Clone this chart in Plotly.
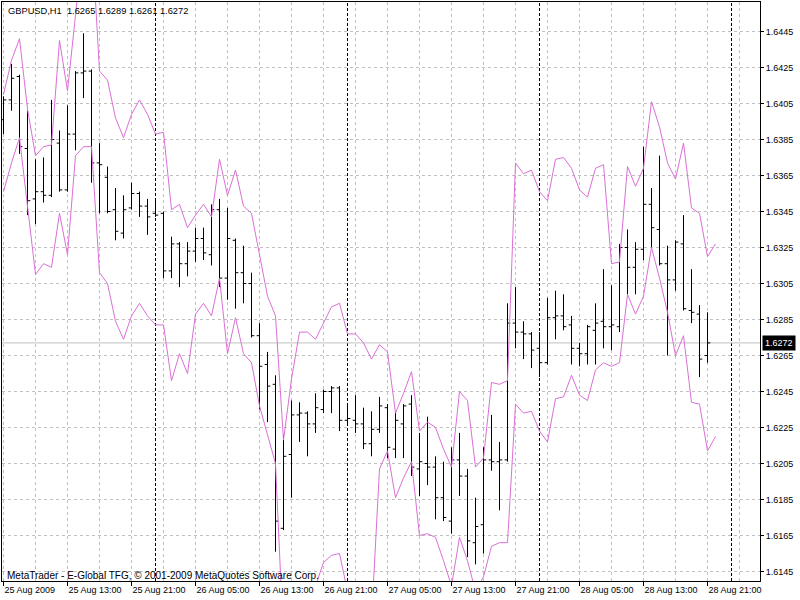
import pandas as pd
import plotly.graph_objects as go

# ---------------- data ----------------
symbol_title = "GBPUSD,H1  1.6265 1.6289 1.6261 1.6272"
copyright_text = "MetaTrader - E-Global TFG, \u00a9 2001-2009 MetaQuotes Software Corp."
first_bar = "2009-08-25 05:00"

opens = [1.6396, 1.6407, 1.6420, 1.6380, 1.6352, 1.6356, 1.6354, 1.6383, 1.6357, 1.6388,
         1.6422, 1.6423, 1.6372, 1.6364, 1.6346, 1.6333, 1.6347, 1.6355, 1.6348, 1.6344,
         1.6344, 1.6312, 1.6327, 1.6316, 1.6323, 1.6330, 1.6321, 1.6346, 1.6308, 1.6329,
         1.6311, 1.6305, 1.6276, 1.6260, 1.6249, 1.6169, 1.6210, 1.6232, 1.6233, 1.6227,
         1.6235, 1.6245, 1.6247, 1.6229, 1.6229, 1.6227, 1.6216, 1.6224, 1.6236, 1.6213,
         1.6227, 1.6238, 1.6202, 1.6205, 1.6203, 1.6186, 1.6173, 1.6207, 1.6198, 1.6161,
         1.6171, 1.6207, 1.6206, 1.6207, 1.6283, 1.6278, 1.6277, 1.6269, 1.6261, 1.6286,
         1.6287, 1.6282, 1.6269, 1.6266, 1.6279, 1.6284, 1.6281, 1.6281, 1.6325, 1.6314,
         1.6324, 1.6349, 1.6335, 1.6316, 1.6307, 1.6327, 1.6290, 1.6288, 1.6265]
highs = [1.6409, 1.6427, 1.6421, 1.6401, 1.6374, 1.6375, 1.6407, 1.6390, 1.6404, 1.6423,
         1.6444, 1.6424, 1.6383, 1.6370, 1.6358, 1.6354, 1.6361, 1.6356, 1.6352, 1.6351,
         1.6345, 1.6331, 1.6328, 1.6328, 1.6336, 1.6336, 1.6349, 1.6352, 1.6347, 1.6330,
         1.6326, 1.6311, 1.6283, 1.6267, 1.6254, 1.6221, 1.6240, 1.6239, 1.6234, 1.6244,
         1.6246, 1.6248, 1.6248, 1.6237, 1.6243, 1.6236, 1.6234, 1.6242, 1.6238, 1.6234,
         1.6238, 1.6243, 1.6222, 1.6231, 1.6209, 1.6206, 1.6214, 1.6222, 1.6202, 1.6186,
         1.6214, 1.6232, 1.6217, 1.6294, 1.6303, 1.6284, 1.6278, 1.6278, 1.6297, 1.6301,
         1.6299, 1.6287, 1.6272, 1.6282, 1.6294, 1.6313, 1.6304, 1.6327, 1.6335, 1.6328,
         1.6381, 1.6358, 1.6376, 1.6326, 1.6329, 1.6343, 1.6313, 1.6293, 1.6289]
lows = [1.6388, 1.6401, 1.6377, 1.6343, 1.6338, 1.6350, 1.6353, 1.6356, 1.6356, 1.6379,
        1.6408, 1.6361, 1.6344, 1.6344, 1.6329, 1.6330, 1.6346, 1.6342, 1.6332, 1.6342,
        1.6308, 1.6308, 1.6303, 1.6309, 1.6317, 1.6318, 1.6315, 1.6303, 1.6296, 1.6291,
        1.6294, 1.6275, 1.6235, 1.6228, 1.6156, 1.6168, 1.6186, 1.6217, 1.6209, 1.6222,
        1.6233, 1.6233, 1.6223, 1.6226, 1.6222, 1.6213, 1.6209, 1.6222, 1.6208, 1.6208,
        1.6208, 1.6198, 1.6187, 1.6193, 1.6174, 1.6173, 1.6166, 1.6187, 1.6153, 1.6149,
        1.6155, 1.6201, 1.6179, 1.6206, 1.6269, 1.6263, 1.6258, 1.6253, 1.6260, 1.6274,
        1.6279, 1.6260, 1.6259, 1.6260, 1.6260, 1.6269, 1.6268, 1.6278, 1.6299, 1.6299,
        1.6318, 1.6325, 1.6315, 1.6265, 1.6301, 1.6290, 1.6283, 1.6253, 1.6261]
closes = [1.6407, 1.6419, 1.6381, 1.6351, 1.6356, 1.6354, 1.6385, 1.6357, 1.6388, 1.6422,
          1.6423, 1.6372, 1.6371, 1.6345, 1.6334, 1.6346, 1.6355, 1.6348, 1.6342, 1.6343,
          1.6312, 1.6327, 1.6316, 1.6323, 1.6330, 1.6322, 1.6346, 1.6308, 1.6330, 1.6311,
          1.6305, 1.6276, 1.6259, 1.6248, 1.6173, 1.6209, 1.6232, 1.6233, 1.6227, 1.6236,
          1.6245, 1.6247, 1.6229, 1.6230, 1.6227, 1.6216, 1.6224, 1.6237, 1.6214, 1.6229,
          1.6237, 1.6203, 1.6206, 1.6203, 1.6186, 1.6175, 1.6207, 1.6198, 1.6162, 1.6170,
          1.6207, 1.6206, 1.6207, 1.6283, 1.6278, 1.6277, 1.6268, 1.6261, 1.6286, 1.6287,
          1.6281, 1.6269, 1.6266, 1.6281, 1.6283, 1.6281, 1.6282, 1.6325, 1.6314, 1.6324,
          1.6349, 1.6336, 1.6316, 1.6307, 1.6328, 1.6291, 1.6289, 1.6263, 1.6272]

upper_band = [1.6410, 1.6429, 1.6441, 1.6402, 1.6376, 1.6381, 1.6382, 1.6440, 1.6412, 1.6451,
              1.6496, 1.6501, 1.6423, 1.6418, 1.6397, 1.6386, 1.6399, 1.6407, 1.6399, 1.6388,
              1.6389, 1.6346, 1.6349, 1.6336, 1.6343, 1.6349, 1.6342, 1.6374, 1.6354, 1.6368,
              1.6348, 1.6344, 1.6321, 1.6298, 1.6287, 1.6218, 1.6252, 1.6278, 1.6278, 1.6274,
              1.6283, 1.6292, 1.6294, 1.6277, 1.6277, 1.6272, 1.6263, 1.6271, 1.6267, 1.6233,
              1.6244, 1.6256, 1.6223, 1.6228, 1.6225, 1.6213, 1.6203, 1.6245, 1.6240, 1.6203,
              1.6208, 1.6250, 1.6249, 1.6251, 1.6372, 1.6366, 1.6368, 1.6356, 1.6351, 1.6374,
              1.6375, 1.6369, 1.6357, 1.6353, 1.6369, 1.6371, 1.6316, 1.6317, 1.6370, 1.6359,
              1.6369, 1.6406, 1.6392, 1.6372, 1.6363, 1.6383, 1.6347, 1.6344, 1.6320, 1.6327]
lower_band = [1.6356, 1.6372, 1.6386, 1.6348, 1.6310, 1.6316, 1.6314, 1.6344, 1.6321, 1.6376,
              1.6381, 1.6381, 1.6311, 1.6305, 1.6284, 1.6274, 1.6287, 1.6294, 1.6287, 1.6282,
              1.6282, 1.6251, 1.6266, 1.6255, 1.6288, 1.6294, 1.6287, 1.6308, 1.6266, 1.6286,
              1.6266, 1.6261, 1.6237, 1.6221, 1.6205, 1.6107, 1.6129, 1.6138, 1.6138, 1.6137,
              1.6150, 1.6154, 1.6155, 1.6134, 1.6134, 1.6129, 1.6118, 1.6202, 1.6212, 1.6186,
              1.6197, 1.6206, 1.6165, 1.6166, 1.6164, 1.6151, 1.6137, 1.6164, 1.6151, 1.6134,
              1.6142, 1.6159, 1.6161, 1.6161, 1.6238, 1.6233, 1.6234, 1.6223, 1.6217, 1.6241,
              1.6242, 1.6254, 1.6243, 1.6240, 1.6257, 1.6261, 1.6259, 1.6261, 1.6299, 1.6288,
              1.6298, 1.6325, 1.6308, 1.6289, 1.6265, 1.6276, 1.6239, 1.6238, 1.6212, 1.6220]

price_ticks = [1.6145, 1.6165, 1.6185, 1.6205, 1.6225, 1.6245, 1.6265, 1.6285,
               1.6305, 1.6325, 1.6345, 1.6365, 1.6385, 1.6405, 1.6425, 1.6445]
price_tick_labels = ["1.6145", "1.6165", "1.6185", "1.6205", "1.6225", "1.6245", "1.6265", "1.6285",
                     "1.6305", "1.6325", "1.6345", "1.6365", "1.6385", "1.6405", "1.6425", "1.6445"]
time_tick_vals = ["2009-08-25 05:00", "2009-08-25 13:00", "2009-08-25 21:00",
                  "2009-08-26 05:00", "2009-08-26 13:00", "2009-08-26 21:00",
                  "2009-08-27 05:00", "2009-08-27 13:00", "2009-08-27 21:00",
                  "2009-08-28 05:00", "2009-08-28 13:00", "2009-08-28 21:00"]
time_tick_text = ["25 Aug 2009", "25 Aug 13:00", "25 Aug 21:00",
                  "26 Aug 05:00", "26 Aug 13:00", "26 Aug 21:00",
                  "27 Aug 05:00", "27 Aug 13:00", "27 Aug 21:00",
                  "28 Aug 05:00", "28 Aug 13:00", "28 Aug 21:00"]
day_separators = ["2009-08-26 00:00", "2009-08-27 00:00", "2009-08-28 00:00", "2009-08-29 00:00"]
last_price_label = "1.6272"

# ---------------- styling ----------------
FONT = "Liberation Sans, Arial, sans-serif"
GRID = "#c0c0c0"
BAND = "#DA70D6"
GRIDDASH = "3px,3px"

bar_times = pd.date_range(first_bar, periods=len(opens), freq="h")
band_times = pd.date_range(first_bar, periods=len(upper_band), freq="h")
grid_times = pd.date_range(first_bar, periods=24, freq="4h")

t0 = pd.Timestamp(first_bar)
x_start = t0 - pd.Timedelta(minutes=11.25)
x_end = x_start + pd.Timedelta(hours=94.75)
px_per_price = 18000.0
y_top = price_ticks[-1] + 29.5 / px_per_price
y_bot = y_top - 579 / px_per_price

fig = go.Figure()
fig.add_trace(go.Ohlc(
    x=bar_times, open=opens, high=highs, low=lows, close=closes,
    increasing=dict(line=dict(color="black", width=1)),
    decreasing=dict(line=dict(color="black", width=1)),
    tickwidth=0.35, hoverinfo="skip"))
fig.add_trace(go.Scatter(x=band_times, y=upper_band, mode="lines",
                         line=dict(color=BAND, width=1), hoverinfo="skip"))
fig.add_trace(go.Scatter(x=band_times, y=lower_band, mode="lines",
                         line=dict(color=BAND, width=1), hoverinfo="skip"))

shapes = []
for d in day_separators:
    shapes.append(dict(type="line", xref="x", yref="paper", x0=d, x1=d, y0=0, y1=1,
                       line=dict(color="black", width=1, dash="3px,2px"), layer="between"))
shapes.append(dict(type="line", xref="paper", yref="y", x0=0, x1=1,
                   y0=closes[-1], y1=closes[-1],
                   line=dict(color=GRID, width=1), layer="between"))

fig.update_layout(
    width=800, height=600,
    margin=dict(l=2, r=40, t=2, b=19, pad=0),
    paper_bgcolor="white", plot_bgcolor="white",
    showlegend=False,
    font=dict(family=FONT, size=9, color="black"),
    shapes=shapes,
    xaxis=dict(
        type="date", range=[x_start, x_end],
        tickmode="array", tickvals=time_tick_vals, ticktext=time_tick_text,
        ticks="outside", ticklen=4, tickcolor="black",
        ticklabelposition="outside right",
        showline=True, linecolor="black", linewidth=1, mirror=True,
        showgrid=True, gridcolor=GRID, griddash=GRIDDASH, gridwidth=1,
        minor=dict(tickmode="array", tickvals=list(grid_times), showgrid=True,
                   gridcolor=GRID, griddash=GRIDDASH, ticks=""),
        zeroline=False, rangeslider=dict(visible=False),
        tickfont=dict(family=FONT, size=9, color="black"),
    ),
    yaxis=dict(
        side="right", range=[y_bot, y_top],
        tickmode="array", tickvals=price_ticks, ticktext=price_tick_labels,
        ticks="outside", ticklen=3, tickcolor="black",
        showline=True, linecolor="black", linewidth=1, mirror=True,
        showgrid=True, gridcolor=GRID, griddash=GRIDDASH, gridwidth=1,
        zeroline=False,
        tickfont=dict(family=FONT, size=9, color="black"),
    ),
    annotations=[
        dict(xref="paper", yref="paper", x=0, y=1, xanchor="left", yanchor="middle",
             xshift=4, yshift=-9, text=symbol_title, showarrow=False,
             font=dict(family=FONT, size=9.3, color="black")),
        dict(xref="paper", yref="paper", x=0, y=0, xanchor="left", yanchor="middle",
             xshift=3, yshift=6, text=copyright_text, showarrow=False,
             font=dict(family=FONT, size=10, color="black")),
        dict(xref="paper", yref="y", x=1, y=closes[-1], xanchor="left", yanchor="middle",
             xshift=2, text=last_price_label, showarrow=False, bgcolor="black",
             borderpad=2, font=dict(family=FONT, size=9, color="white")),
    ],
)

fig.write_html("out.html",
               config={"displayModeBar": False},
               post_script="document.body.style.margin='0';document.body.style.padding='0';")
